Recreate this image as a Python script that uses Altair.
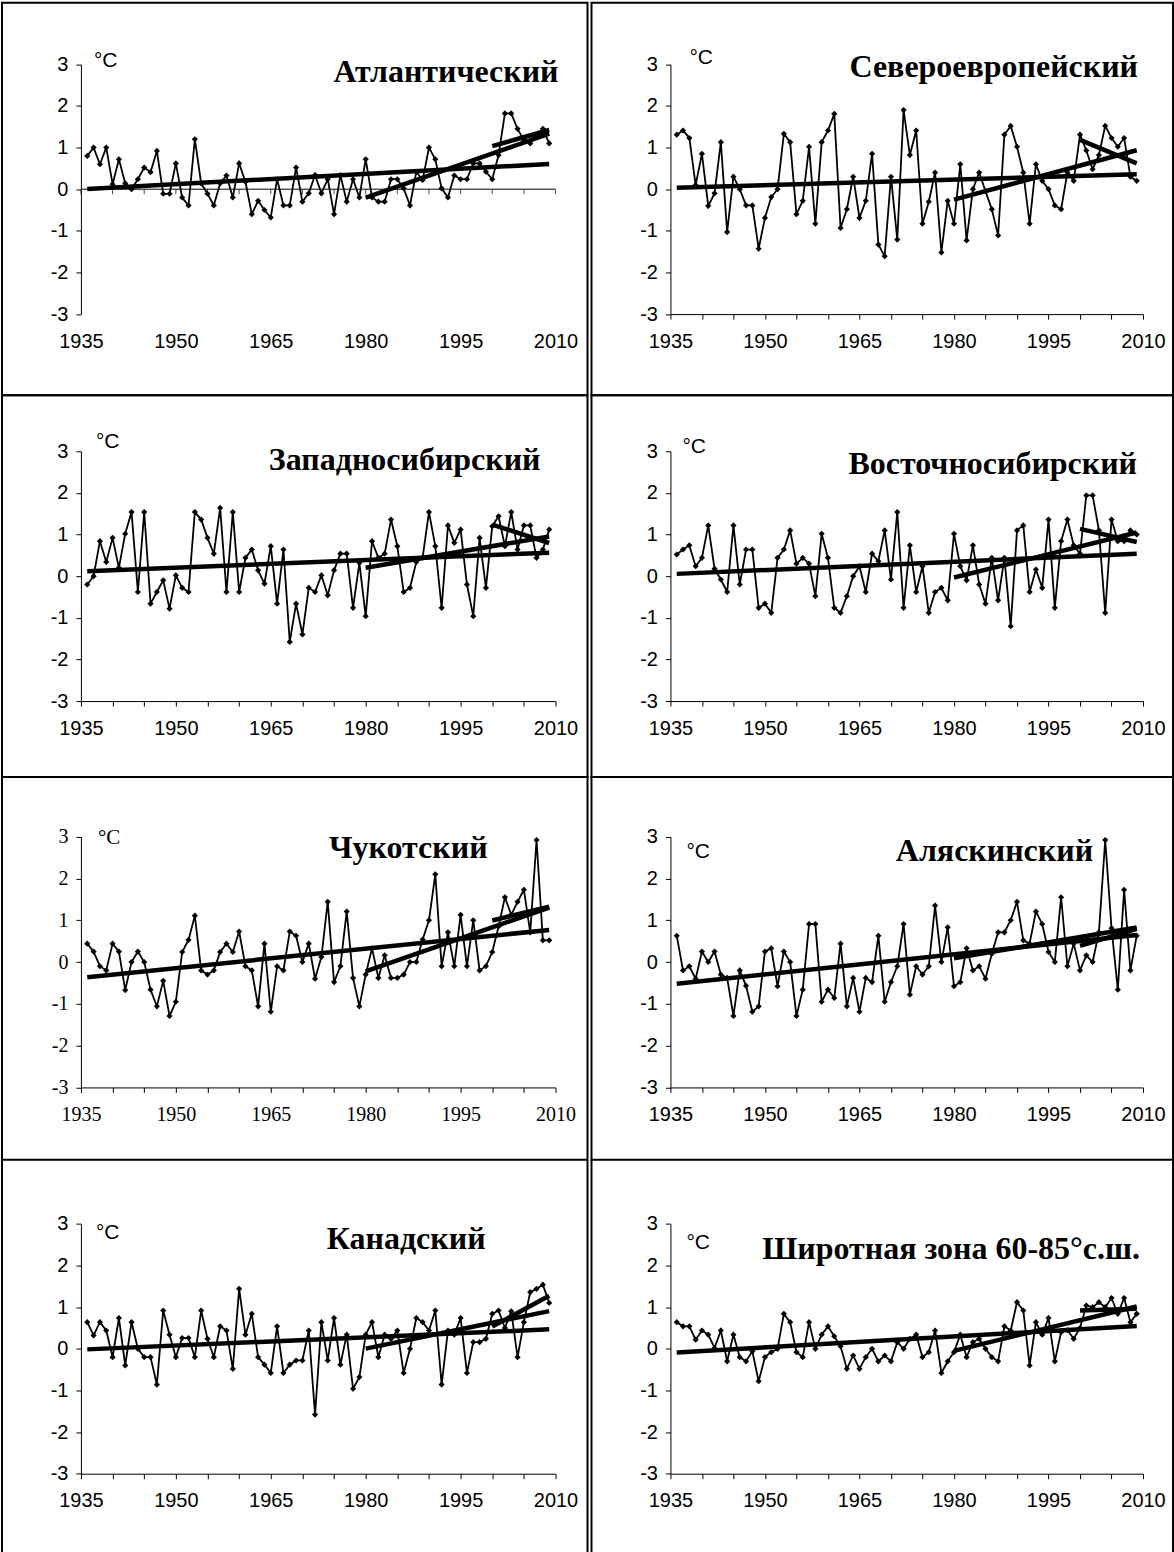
import altair as alt
import pandas as pd

# Annual mean air-temperature anomalies (°C), 1936-2009, by region
YEARS = list(range(1936, 2010))

NAMES = [
    "Атлантический", "Североевропейский",
    "Западносибирский", "Восточносибирский",
    "Чукотский", "Аляскинский",
    "Канадский", "Широтная зона 60-85°с.ш.",
]

ATL = [0.8, 1.0, 0.6, 1.0, 0.12, 0.72, 0.14, 0.0, 0.24, 0.52,
       0.41, 0.92, -0.11, -0.11, 0.62, -0.2, -0.39, 1.2, 0.14, -0.11,
       -0.39, 0.14, 0.33, -0.2, 0.62, 0.18, -0.6, -0.28, -0.5, -0.68,
       0.24, -0.39, -0.39, 0.52, -0.3, -0.1, 0.34, -0.1, 0.24, -0.6,
       0.34, -0.3, 0.24, -0.2, 0.72, -0.2, -0.3, -0.3, 0.24, 0.24,
       0.02, -0.39, 0.42, 0.22, 1.0, 0.72, 0.02, -0.2, 0.33, 0.24,
       0.24, 0.62, 0.62, 0.42, 0.24, 0.82, 1.82, 1.82, 1.45, 1.18,
       1.1, 1.3, 1.45, 1.1]

NEUR = [1.31, 1.41, 1.23, 0.1, 0.85, -0.4, -0.1, 1.13, -1.03, 0.3,
        0.0, -0.39, -0.39, -1.43, -0.69, -0.19, 0.0, 1.33, 1.13, -0.6,
        -0.28, 1.02, -0.83, 1.13, 1.41, 1.81, -0.93, -0.48, 0.3, -0.69,
        -0.28, 0.85, -1.33, -1.61, 0.3, -1.21, 1.9, 0.82, 1.41, -0.83,
        -0.3, 0.4, -1.52, -0.28, -0.83, 0.6, -1.23, 0.0, 0.4, -0.05,
        -0.48, -1.11, 1.31, 1.52, 1.02, 0.4, -0.83, 0.6, 0.2, 0.0,
        -0.39, -0.48, 0.4, 0.2, 1.31, 0.93, 0.48, 0.82, 1.52, 1.23,
        1.02, 1.23, 0.3, 0.2]

WSIB = [-0.2, 0.0, 0.84, 0.34, 0.92, 0.2, 1.02, 1.54, -0.38, 1.54,
        -0.66, -0.38, -0.1, -0.78, 0.02, -0.28, -0.38, 1.54, 1.36, 0.92,
        0.54, 1.64, -0.38, 1.54, -0.38, 0.44, 0.64, 0.14, -0.18, 0.72,
        -0.66, 0.64, -1.58, -0.66, -1.4, -0.28, -0.38, 0.02, -0.46, 0.14,
        0.54, 0.54, -0.76, 0.32, -0.96, 0.84, 0.44, 0.54, 1.36, 0.72,
        -0.38, -0.28, 0.34, 0.45, 1.54, 0.72, -0.76, 1.22, 0.8, 1.12,
        -0.2, -0.96, 0.92, -0.28, 1.2, 1.44, 0.72, 1.54, 0.64, 1.22,
        1.22, 0.44, 0.64, 1.12]

ESIB = [0.52, 0.64, 0.74, 0.24, 0.44, 1.22, 0.18, -0.08, -0.38, 1.22,
        -0.2, 0.64, 0.64, -0.76, -0.66, -0.88, 0.44, 0.64, 1.1, 0.3,
        0.44, 0.3, -0.48, 1.02, 0.44, -0.76, -0.88, -0.48, 0.0, 0.24,
        -0.38, 0.54, 0.36, 1.1, -0.08, 1.54, -0.76, 0.74, -0.38, 0.24,
        -0.88, -0.38, -0.28, -0.58, 1.02, 0.24, -0.1, 0.74, -0.2, -0.66,
        0.44, -0.58, 0.44, -1.2, 1.1, 1.22, -0.38, 0.16, -0.28, 1.36,
        -0.76, 0.84, 1.36, 0.74, 0.54, 1.94, 1.94, 1.1, -0.88, 1.36,
        0.84, 0.84, 1.1, 1.0]

CHUK = [0.44, 0.25, -0.1, -0.2, 0.44, 0.25, -0.67, 0.0, 0.25, 0.0,
        -0.66, -1.06, -0.45, -1.29, -0.95, 0.24, 0.53, 1.11, -0.2, -0.3,
        -0.2, 0.24, 0.44, 0.24, 0.73, -0.1, -0.2, -1.06, 0.44, -1.19,
        -0.1, -0.2, 0.73, 0.63, 0.0, 0.44, -0.4, 0.12, 1.44, -0.48,
        -0.1, 1.21, -0.38, -1.06, -0.3, 0.33, -0.38, 0.16, -0.38, -0.38,
        -0.3, 0.0, 0.0, 0.54, 1.0, 2.1, -0.1, 0.71, -0.1, 1.13,
        -0.1, 1.0, -0.2, -0.1, 0.24, 0.85, 1.55, 1.13, 1.44, 1.73,
        0.71, 2.92, 0.52, 0.52]

ALAS = [0.63, -0.2, -0.1, -0.4, 0.25, 0.0, 0.25, -0.3, -0.38, -1.29,
        -0.2, -0.57, -1.19, -1.06, 0.25, 0.33, -0.58, 0.25, 0.0, -1.29,
        -0.66, 0.91, 0.91, -0.95, -0.66, -0.86, 0.44, -1.06, -0.38, -1.19,
        -0.38, -0.48, 0.63, -0.95, -0.48, -0.1, 0.91, -0.78, -0.1, -0.3,
        -0.1, 1.35, 0.0, 0.83, -0.58, -0.48, 0.33, -0.2, -0.1, -0.4,
        0.2, 0.71, 0.71, 1.0, 1.44, 0.52, 0.44, 1.21, 0.91, 0.24,
        0.0, 1.55, -0.1, 0.44, -0.2, 0.16, 0.0, 0.71, 2.92, 0.81,
        -0.66, 1.73, -0.2, 0.63]

CANA = [0.64, 0.32, 0.64, 0.44, -0.2, 0.74, -0.4, 0.64, 0.0, -0.2,
        -0.2, -0.86, 0.92, 0.34, -0.2, 0.26, 0.26, -0.2, 0.92, 0.24,
        -0.2, 0.54, 0.44, -0.48, 1.44, 0.34, 0.84, -0.2, -0.38, -0.58,
        0.54, -0.58, -0.38, -0.28, -0.28, 0.44, -1.58, 0.64, -0.28, 0.74,
        -0.38, 0.34, -0.96, -0.68, 0.34, 0.64, -0.2, 0.34, 0.24, 0.44,
        -0.58, 0.0, 0.74, 0.64, 0.44, 0.92, -0.86, 0.44, 0.34, 0.74,
        -0.58, 0.16, 0.16, 0.24, 0.84, 0.92, 0.5, 0.9, -0.2, 0.64,
        1.36, 1.44, 1.54, 1.1]

ZONE = [0.64, 0.54, 0.54, 0.22, 0.44, 0.34, 0.02, 0.44, -0.3, 0.34,
        -0.2, -0.3, -0.06, -0.78, -0.2, -0.08, 0.0, 0.84, 0.64, -0.08,
        -0.2, 0.64, 0.0, 0.34, 0.54, 0.3, 0.06, -0.48, -0.16, -0.48,
        -0.2, 0.0, -0.3, -0.16, -0.3, 0.16, 0.0, 0.24, 0.34, -0.2,
        -0.08, 0.44, -0.58, -0.3, -0.08, 0.34, -0.2, 0.16, 0.24, 0.0,
        -0.2, -0.3, 0.54, 0.44, 1.12, 0.92, -0.4, 0.64, 0.34, 0.74,
        -0.3, 0.4, 0.45, 0.24, 0.5, 1.04, 1.0, 1.12, 1.0, 1.22,
        0.84, 1.22, 0.64, 0.84]

SERIES = [ATL, NEUR, WSIB, ESIB, CHUK, ALAS, CANA, ZONE]

X_DOMAIN = [1935, 2010]
X_TICKS = list(range(1935, 2011, 5))
X_LABEL_STEP = 15
Y_DOMAIN = [-3, 3]
Y_TICKS = [-3, -2, -1, 0, 1, 2, 3]
TREND_STARTS = [1980, 2000]   # short-period linear trends (plus the full-period one)

# ---- layout (pixels) ----
COL_W = [586, 582]
COL_GAP = 4
ROW_H = [393, 382, 383, 392]
X_RANGE = [(79, 554), (79, 552)]
Y_RANGE = [(311.7, 61.7), (306, 56), (310.7, 59.7), (314.3, 64.3)]
TITLE_POS = [(557, 79), (547, 74), (539, 75), (546, 79),
             (486, 81), (502, 84), (484, 89), (549, 99)]
UNIT_POS = [(92, 64), (98, 61), (94, 53), (91, 58),
            (96, 67), (95, 81), (94, 79), (95, 89)]

SANS = "Liberation Sans"
SERIF = "Liberation Serif"
TICK_FS = 20
TITLE_FS = 32
UNIT_FS = 21


def text_layer(txt, x, y, **style):
    return alt.Chart(pd.DataFrame({"t": [txt]})).mark_text(
        color="black", baseline="alphabetic", **style
    ).encode(text="t:N", x=alt.value(x), y=alt.value(y))


def panel(i):
    row, col = divmod(i, 2)
    w, h = COL_W[col], ROW_H[row]
    y_bottom, y_top = Y_RANGE[row]
    font = SERIF if i == 4 else SANS
    axis_at_zero = i == 0

    label_expr = (f"(datum.value - {X_DOMAIN[0]}) % {X_LABEL_STEP} == 0"
                  " ? toString(datum.value) : ''")
    x_axis = alt.Axis(
        orient="bottom", values=X_TICKS, labelExpr=label_expr,
        offset=-(h - y_bottom), domain=not axis_at_zero, ticks=not axis_at_zero,
        tickSize=5, labelPadding=17 if axis_at_zero else 12,
        labelFlush=False, labelOverlap=False, labelBound=False,
        labelFont=font, labelFontSize=TICK_FS, labelColor="black",
        domainColor="black", tickColor="black", grid=False, title=None,
    )
    y_axis = alt.Axis(
        orient="left", values=Y_TICKS, labelExpr="toString(datum.value)",
        offset=-X_RANGE[col][0], tickSize=5, labelPadding=8,
        labelFont=font, labelFontSize=TICK_FS, labelColor="black",
        domainColor="black", tickColor="black", grid=False, title=None,
    )
    x_enc = alt.X("year:Q", axis=x_axis,
                  scale=alt.Scale(domain=X_DOMAIN, range=list(X_RANGE[col]),
                                  nice=False, zero=False))
    y_enc = alt.Y("value:Q", axis=y_axis,
                  scale=alt.Scale(domain=Y_DOMAIN, range=[y_bottom, y_top],
                                  nice=False, zero=False))

    df = pd.DataFrame({"year": YEARS, "value": SERIES[i]})
    base = alt.Chart(df).encode(x=x_enc, y=y_enc)

    layers = []
    if axis_at_zero:
        layers.append(
            alt.Chart(pd.DataFrame({"year": X_TICKS}))
            .mark_tick(orient="vertical", size=5, thickness=1, color="black", yOffset=2.5)
            .encode(x=x_enc, y=alt.datum(0))
        )
        layers.append(
            alt.Chart(pd.DataFrame({"year": [X_DOMAIN[0]], "year2": [X_DOMAIN[1]]}))
            .mark_rule(color="black", strokeWidth=1)
            .encode(x=x_enc, x2="year2:Q", y=alt.datum(0))
        )

    trend_style = dict(color="black", strokeWidth=4.5)
    layers.append(base.transform_regression("year", "value").mark_line(**trend_style))
    for start in TREND_STARTS:
        layers.append(
            base.transform_filter(f"datum.year >= {start}")
            .transform_regression("year", "value")
            .mark_line(**trend_style)
        )
    layers.append(base.mark_line(color="black", strokeWidth=1.8))
    layers.append(base.mark_point(shape="diamond", filled=True, size=38,
                                  color="black", opacity=1))

    tx, ty = TITLE_POS[i]
    layers.append(text_layer(NAMES[i], tx, ty, font=SERIF, fontSize=TITLE_FS,
                             fontWeight="bold", align="right"))
    ux, uy = UNIT_POS[i]
    layers.append(text_layer("°C", ux, uy, font=font, fontSize=UNIT_FS, align="left"))

    last_row = row == len(ROW_H) - 1
    if last_row:
        # frame of the bottom row: sides only, it runs off the page at the bottom
        for edge in (0, w):
            layers.append(
                alt.Chart(pd.DataFrame({"k": [0]}))
                .mark_rule(color="black", strokeWidth=2)
                .encode(x=alt.value(edge), y=alt.value(0), y2=alt.value(h + 2))
            )

    ch = alt.layer(*layers).properties(width=w, height=h)
    if last_row:
        ch = ch.properties(view=alt.ViewBackground(strokeOpacity=0))
    return ch


chart = (
    alt.concat(*[panel(i) for i in range(len(SERIES))], columns=2,
               spacing=alt.RowColnumber(row=0, column=COL_GAP), bounds="flush")
    .properties(padding={"left": 1, "top": 1, "right": 0, "bottom": 0},
                background="white")
    .configure_view(stroke="black", strokeWidth=2)
)

chart.save("out.html", embed_options={"renderer": "svg", "actions": False})
